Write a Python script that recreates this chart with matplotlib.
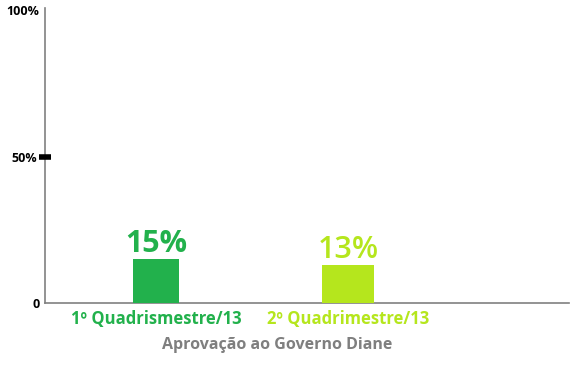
import matplotlib
matplotlib.use("Agg")
import matplotlib.pyplot as plt

categories = ["1º Quadrismestre/13", "2º Quadrimestre/13"]
values = [15, 13]
value_labels = ["15%", "13%"]
colors = ["#22b14c", "#b5e61d"]
title = "Aprovação ao Governo Diane"

plt.rcParams['font.family'] = ['Open Sans', 'DejaVu Sans']

fig = plt.figure(figsize=(5.74, 3.76), dpi=100)
ax = fig.add_axes([45/574, 73/376, 524/574, 295/376])

x = list(range(len(categories)))
widths = [0.24, 0.27]
bars = ax.bar(x, values, width=widths, color=colors, zorder=2)

ax.set_xlim(-0.578, 2.15)
ax.set_ylim(0, 100.7)

for xi, v, lab, c, w in zip(x, values, value_labels, colors, ["bold", "semibold"]):
    ax.annotate(lab, (xi, v), xytext=(0, 0), textcoords="offset points",
                ha="center", va="bottom", fontsize=22, fontweight=w, color=c)

for s in ["top", "right"]:
    ax.spines[s].set_visible(False)
for s in ["left", "bottom"]:
    ax.spines[s].set_color("#808080")
    ax.spines[s].set_linewidth(1.2)
    ax.spines[s].set_zorder(1)

ax.set_xticks(x)
ax.set_xticklabels(categories)
for lbl, c in zip(ax.get_xticklabels(), colors):
    lbl.set_color(c)
    lbl.set_fontweight("bold")
    lbl.set_fontsize(12)
ax.tick_params(axis="x", length=0, pad=5)

ax.set_yticks([0, 100])
ax.set_yticklabels(["0", "100%"], fontsize=9, fontweight="bold")
ax.set_yticks([50], minor=True)
ax.set_yticklabels(["50%"], minor=True, fontsize=9, fontweight="bold")
ax.tick_params(axis="y", which="major", length=0, pad=4)
ax.tick_params(axis="y", which="minor", length=9, width=4, direction="inout",
               color="black", pad=1)
ax.yaxis.set_zorder(3)

ax.set_xlabel(title, fontsize=11.5, fontweight="bold", color="#7f7f7f", labelpad=8)
ax.xaxis.set_label_coords(0.444, -0.115)

fig.savefig("out.png", dpi=100, facecolor="white")
